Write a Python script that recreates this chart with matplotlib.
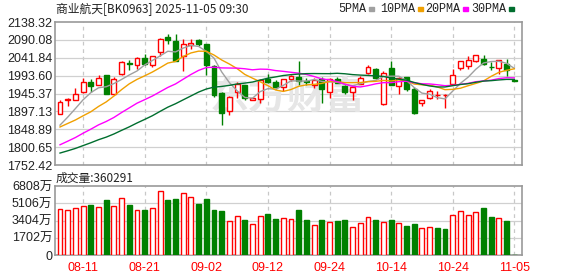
import numpy as np
import pandas as pd
import matplotlib
matplotlib.use("Agg")
import matplotlib.pyplot as plt

plt.rcParams['font.family'] = ['Liberation Sans', 'Noto Sans CJK SC', 'DejaVu Sans']

# 60 trading days shown
dates = ["08-06", "08-07", "08-08", "08-11", "08-12", "08-13", "08-14", "08-15", "08-18", "08-19",
         "08-20", "08-21", "08-22", "08-25", "08-26", "08-27", "08-28", "08-29", "09-01", "09-02",
         "09-03", "09-04", "09-05", "09-08", "09-09", "09-10", "09-11", "09-12", "09-15", "09-16",
         "09-17", "09-18", "09-19", "09-22", "09-23", "09-24", "09-25", "09-26", "09-29", "09-30",
         "10-09", "10-10", "10-13", "10-14", "10-15", "10-16", "10-17", "10-20", "10-21", "10-22",
         "10-23", "10-24", "10-27", "10-28", "10-29", "10-30", "10-31", "11-03", "11-04", "11-05"]

open_ = [1891, 1927, 1929, 1949, 1975.8, 1969.6, 1994.7, 1945.3, 1997.4, 2028.9,
         2021.6, 2042.4, 2023.5, 2057.5, 2097.9, 2087.1, 2046.7, 2076.3, 2089, 2079,
         2019, 1946, 1897.7, 1949.7, 1967.7, 1929, 1930, 1985.8, 1976.6, 1963.1,
         1983.9, 1990.1, 1978.5, 1967.7, 1985.8, 1949.7, 1983.9, 1965.8, 1949.7, 1972.3,
         2002, 2012.7, 1915.7, 2014.3, 1966, 1990.1, 1956.9, 1918.4, 1933.5, 1941,
         1941.5, 1972.3, 2014.3, 2019.7, 2032.4, 2037.8, 2017.0, 2014.3, 2026.2, 1983]
high = [1929, 1933, 1959, 1988.5, 1985.8, 1994.7, 1995, 1989, 2032, 2036.9,
        2043, 2051.3, 2046, 2094, 2107.1, 2105, 2093.6, 2093.6, 2093.6, 2080,
        2021.6, 1950, 1938, 1976.6, 1969.6, 1935, 1984.7, 1999, 1981.2, 1984.5,
        1996.5, 2032.4, 1987.4, 1988, 1990, 1988, 1990, 1968, 1963.5, 1992,
        2021, 2013.5, 2005, 2032.4, 1990, 1991, 1963.1, 1928, 1958.8, 1952.4,
        1942.7, 2012.7, 2033, 2045.9, 2049, 2050.5, 2029.7, 2036, 2037.8, 1985]
low = [1889, 1911, 1928, 1947, 1949.7, 1968, 1944, 1944, 1994.7, 2010,
       2012.7, 2021.6, 2017, 2047.8, 2078.2, 2033, 2006.3, 2064.7, 2072.8, 1994.7,
       1936, 1861, 1887, 1933.5, 1927.3, 1928, 1920, 1975, 1958.8, 1951.6,
       1978.5, 1967.7, 1967.7, 1961.5, 1918.4, 1933.5, 1975, 1945, 1927.3, 1972,
       1998, 1984, 1915, 1967, 1944, 1952.4, 1891, 1911, 1930, 1930,
       1905, 1972, 2008.2, 2012.7, 2029.7, 2023.5, 2008.2, 1999.2, 1992.8, 1979]
close = [1923, 1930, 1943.5, 1975.8, 1965.8, 1988.5, 1945, 1985.8, 2031.6, 2026.2,
         2042.4, 2026.2, 2045.8, 2093.6, 2089, 2033.2, 2078.2, 2081.7, 2080.1, 2022,
         1942, 1892, 1937, 1970.4, 1932, 1932, 1981.2, 1976.6, 1963.1, 1983.9,
         1992.8, 1978.5, 1976.5, 1983.1, 1958.8, 1985.8, 1975, 1948.1, 1963.1, 1987.4,
         2016.2, 1987.4, 2002, 1967.7, 1987, 1958.8, 1891.5, 1927.3, 1952.4, 1941,
         1941.5, 1996.5, 2032.4, 2035.1, 2048.6, 2026.2, 2016.0, 2035.1, 2008.2, 1980]
# volume in 万
volume = [4510, 4410, 4610, 4800, 4935, 4710, 5430, 4800, 5600, 4935,
          4410, 4440, 4610, 6290, 5430, 5530, 6090, 5690, 5030, 5530,
          4440, 4340, 3325, 3820, 3455, 3030, 3820, 4050, 3550, 3620,
          3520, 4440, 3455, 2930, 3455, 3225, 3355, 3455, 2730, 3130,
          3720, 3455, 3225, 3455, 3130, 2860, 3060, 2630, 2730, 2665,
          2565, 3915, 4340, 3915, 4210, 4640, 3750, 3620, 3355, 36.03]
# closes before the window, estimated from where the MA lines start
prev_close = [1748, 1752, 1745, 1738, 1742, 1735, 1730, 1738, 1742, 1730,
              1738, 1745, 1742, 1750, 1755, 1762, 1768, 1765, 1775, 1790,
              1835, 1850, 1862, 1858, 1845, 1822, 1828, 1857, 1870]

price_ticks = [2138.32, 2090.08, 2041.84, 1993.60, 1945.37, 1897.13, 1848.89, 1800.65, 1752.42]
vol_ticks = [0, 1702, 3404, 5106, 6808]
vol_labels = ["0", "1702万", "3404万", "5106万", "6808万"]
tick_dates = ["08-11", "08-21", "09-02", "09-12", "09-24", "10-14", "10-24", "11-05"]
ma_windows = [5, 10, 20, 30]
ma_colors = ["#a0a0a0", "#f0a000", "#ff00ff", "#006e2e"]

title = "商业航天[BK0963] 2025-11-05 09:30"
vol_title = "成交量:360291"

RED = "#ff0000"
GREEN = "#008000"
W, H = 578, 276

fig = plt.figure(figsize=(W / 100, H / 100), dpi=100)
fig.patch.set_facecolor("white")

def px_axes(l, t, r, b):
    return fig.add_axes([l / W, 1 - b / H, (r - l) / W, (b - t) / H])

ax = px_axes(55, 22, 522, 165)
axv = px_axes(55, 186, 522, 255)

x = np.arange(len(close))
o = np.array(open_)
c = np.array(close)
up = c >= o
vol_up = c > o
cols = np.where(up, RED, GREEN)
tick_pos = [dates.index(d) for d in tick_dates]

for a in (ax, axv):
    a.set_xlim(-0.65, len(close))
    for s in a.spines.values():
        s.set_color("#999999")
        s.set_linewidth(1.2)
    for p in tick_pos:
        a.axvline(p, color="#c8c8c8", lw=0.9, ls=(0, (3, 3)), zorder=0)
    a.tick_params(length=0, pad=2, labelsize=9, colors="#222222")

# price panel
ax.set_ylim(price_ticks[-1], price_ticks[0])
ax.set_yticks(price_ticks)
ax.set_yticklabels([f"{v:.2f}" for v in price_ticks])
for v in price_ticks[1:-1]:
    ax.axhline(v, color="#d0d0d0", lw=0.9, zorder=0)
ax.set_xticks([])

# watermark
ax.text(0.497, 0.47, "东方财富", transform=ax.transAxes, ha="center", va="center",
        fontsize=28, fontweight="bold", color="#e6e6e6", family=["Noto Sans CJK SC"],
        zorder=1)

ax.vlines(x, low, high, colors=cols, lw=1, zorder=3)
ax.bar(x, c - o, bottom=o, width=0.64, color=np.where(up, "white", GREEN),
       edgecolor=cols, lw=1, zorder=4)

all_close = pd.Series(prev_close + close)
for n, col in zip(ma_windows, ma_colors):
    ma = all_close.rolling(n).mean().values[len(prev_close):]
    ax.plot(x, ma, color=col, lw=1, zorder=5)

# volume panel
axv.set_ylim(0, vol_ticks[-1])
axv.set_yticks(vol_ticks)
axv.set_yticklabels(vol_labels)
for v in vol_ticks[1:-1]:
    axv.axhline(v, color="#d0d0d0", lw=0.9, zorder=0)
vcols = np.where(vol_up, RED, GREEN)
axv.bar(x, volume, width=0.64, color=np.where(vol_up, "white", GREEN),
        edgecolor=vcols, lw=1, zorder=3)
axv.set_xticks(tick_pos)
axv.set_xticklabels(tick_dates)
axv.tick_params(axis="x", colors=RED, pad=5)

# header texts
fig.text(56 / W, 1 - 9 / H, title, fontsize=8.5, va="center", ha="left",
         family=["Noto Sans CJK SC", "DejaVu Sans"], color="#222222")
fig.text(56 / W, 1 - 178 / H, vol_title, fontsize=8.5, va="center", ha="left",
         family=["Noto Sans CJK SC", "DejaVu Sans"], color="#222222")

leg_x = [338, 380, 425, 471]
for lx, n, col in zip(leg_x, ma_windows, ma_colors):
    t = fig.text(lx / W, 1 - 9 / H, f"{n}PMA", fontsize=8.5, va="center", ha="left",
                 family=["Liberation Mono"], color="#222222")
    fig.canvas.draw()
    bb = t.get_window_extent()
    fig.patches.append(plt.Rectangle(((bb.x1 + 3) / W, 1 - 10.5 / H), 5 / W, 3 / H,
                                     transform=fig.transFigure, color=col))

fig.savefig("out.png", dpi=100)
